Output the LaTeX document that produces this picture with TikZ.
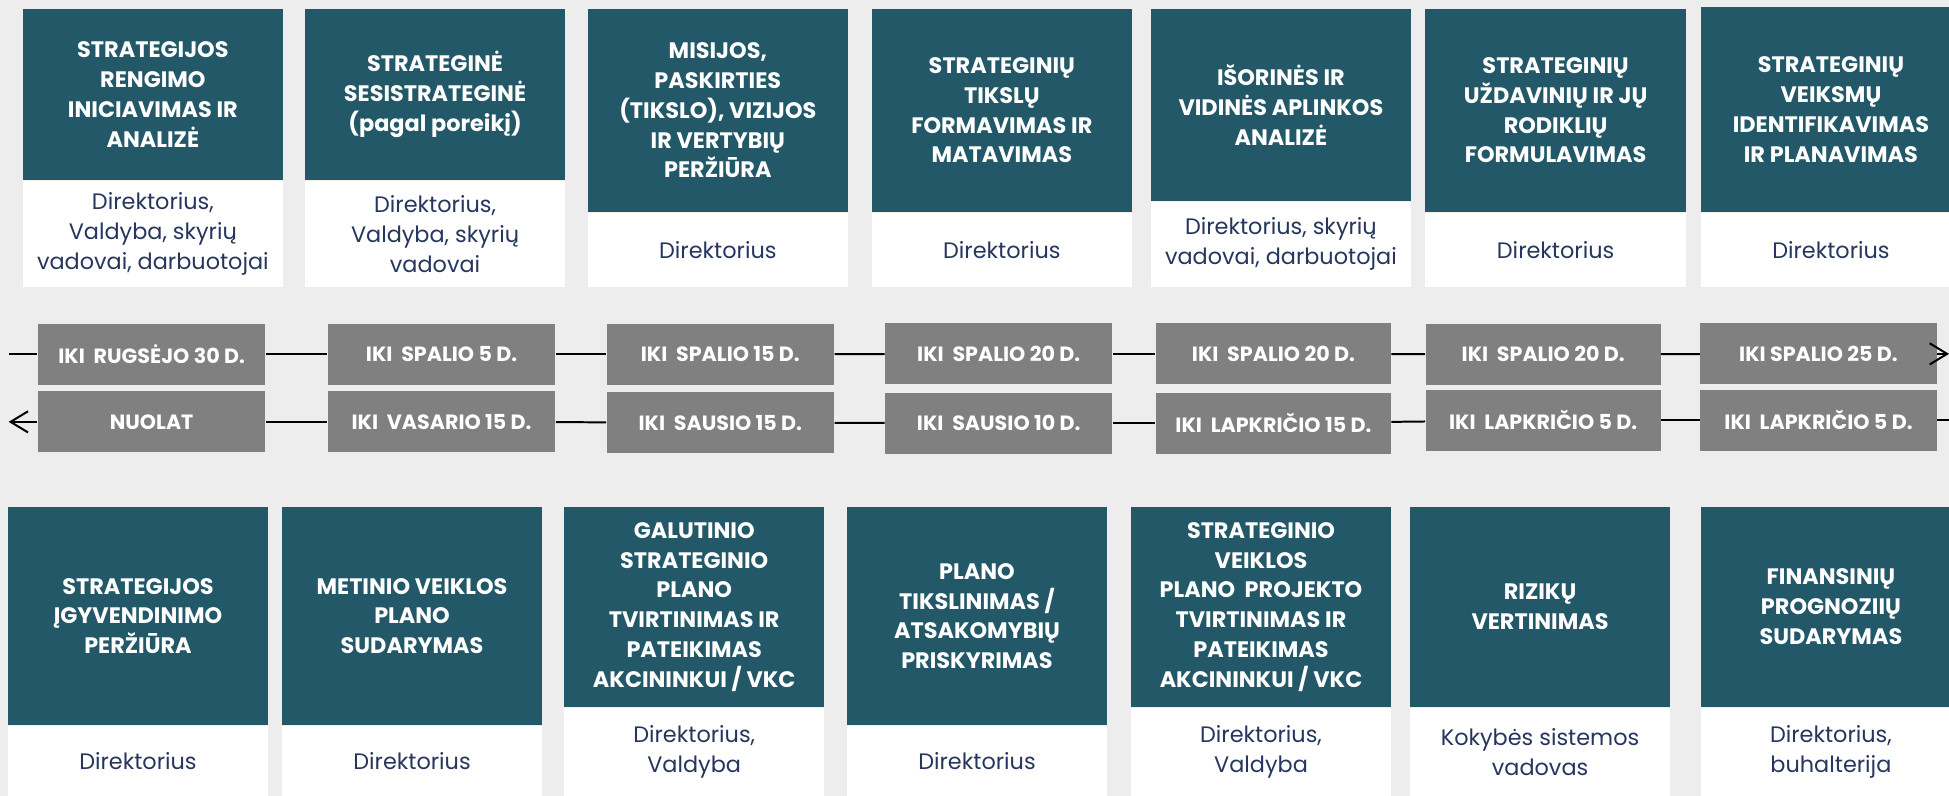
\documentclass[tikz,border=0pt]{standalone}
\usepackage{fontspec}
\setmainfont{Poppins}
\usetikzlibrary{positioning,arrows.meta}
\definecolor{stepteal}{RGB}{34,88,104}
\definecolor{pagegray}{RGB}{237,237,237}
\definecolor{dategray}{RGB}{128,128,128}
\definecolor{whonavy}{RGB}{38,54,94}

\tikzset{
  task/.style={fill=stepteal, text=white, align=center, inner sep=0pt,
    minimum width=104.75pt, font=\bfseries\fontsize{9}{12}\selectfont},
  who/.style={fill=white, text=whonavy, align=center, inner sep=0pt,
    minimum width=104.75pt, font=\fontsize{9}{12}\selectfont},
  deadline/.style={fill=dategray, text=white, inner sep=0pt,
    minimum height=24.5pt, font=\bfseries\fontsize{8.3}{10}\selectfont},
  timeline/.style={line width=0.8pt, black},
  tip/.style={-{Straight Barb[length=7pt,width=8.5pt]}}
}

\begin{document}
\begin{tikzpicture}[x=0.5pt, y=-0.5pt]
  \useasboundingbox (0,0) rectangle (1568,640);
  \fill[pagegray] (0,0) rectangle (1568,640);

  % Top row of steps
  \node[task, minimum height=68.8pt] (t1) at (123,76) {STRATEGIJOS\\RENGIMO\\INICIAVIMAS IR\\ANALIZĖ};
  \node[who, minimum height=42.5pt, below=0pt of t1] (w1) {Direktorius,\\Valdyba, skyrių\\vadovai, darbuotojai};
  \node[task, minimum height=68.8pt] (t2) at (350,76) {STRATEGINĖ\\SESISTRATEGINĖ\\(pagal poreikį)};
  \node[who, minimum height=42.5pt, below=0pt of t2] (w2) {Direktorius,\\Valdyba, skyrių\\vadovai};
  \node[task, minimum height=81.55pt] (t3) at (577.5,88.75) {MISIJOS,\\PASKIRTIES\\(TIKSLO), VIZIJOS\\IR VERTYBIŲ\\PERŽIŪRA};
  \node[who, minimum height=29.75pt, below=0pt of t3] (w3) {Direktorius};
  \node[task, minimum height=81.55pt] (t4) at (806,88.75) {STRATEGINIŲ\\TIKSLŲ\\FORMAVIMAS IR\\MATAVIMAS};
  \node[who, minimum height=29.75pt, below=0pt of t4] (w4) {Direktorius};
  \node[task, minimum height=77.25pt] (t5) at (1030.5,84.45) {IŠORINĖS IR\\VIDINĖS APLINKOS\\ANALIZĖ};
  \node[who, minimum height=34pt, below=0pt of t5] (w5) {Direktorius, skyrių\\vadovai, darbuotojai};
  \node[task, minimum height=81.55pt] (t6) at (1251.5,88.75) {STRATEGINIŲ\\UŽDAVINIŲ IR JŲ\\RODIKLIŲ\\FORMULAVIMAS};
  \node[who, minimum height=29.75pt, below=0pt of t6] (w6) {Direktorius};
  \node[task, minimum height=82.35pt] (t7) at (1473,88) {STRATEGINIŲ\\VEIKSMŲ\\IDENTIFIKAVIMAS\\IR PLANAVIMAS};
  \node[who, minimum height=29.75pt, below=0pt of t7] (w7) {Direktorius};

  % Deadlines, forward
  \node[deadline, minimum width=91.5pt] (a1) at (122,285.1) {IKI\ \ RUGSĖJO 30 D.};
  \node[deadline, minimum width=91.5pt] (a2) at (355.25,285.1) {IKI\ \ SPALIO 5 D.};
  \node[deadline, minimum width=91.5pt] (a3) at (579.5,285.1) {IKI\ \ SPALIO 15 D.};
  \node[deadline, minimum width=91.5pt] (a4) at (803.5,284.7) {IKI\ \ SPALIO 20 D.};
  \node[deadline, minimum width=94.5pt] (a5) at (1024.5,284.7) {IKI\ \ SPALIO 20 D.};
  \node[deadline, minimum width=94.5pt] (a6) at (1241.5,285.1) {IKI\ \ SPALIO 20 D.};
  \node[deadline, minimum width=95pt] (a7) at (1463,284.7) {IKI SPALIO 25 D.};

  % Deadlines, back
  \node[deadline, minimum width=91.5pt] (b1) at (122,339.4) {NUOLAT};
  \node[deadline, minimum width=91.5pt] (b2) at (355.25,339.4) {IKI\ \ VASARIO 15 D.};
  \node[deadline, minimum width=91.5pt] (b3) at (579.5,340) {IKI\ \ SAUSIO 15 D.};
  \node[deadline, minimum width=91.5pt] (b4) at (803.5,340.5) {IKI\ \ SAUSIO 10 D.};
  \node[deadline, minimum width=94.5pt] (b5) at (1024.5,340.5) {IKI\ \ LAPKRIČIO 15 D.};
  \node[deadline, minimum width=94.5pt] (b6) at (1241.5,338) {IKI\ \ LAPKRIČIO 5 D.};
  \node[deadline, minimum width=95pt] (b7) at (1463,338) {IKI\ \ LAPKRIČIO 5 D.};

  \coordinate (aL) at (7,285.1);
  \coordinate (aR) at (1568,284.7);
  \coordinate (bL) at (7,339.4);
  \coordinate (bR) at (1568,338);

  \draw[timeline] (aL) -- (a1);
  \draw[timeline] (a1) -- (a2);
  \draw[timeline] (a2) -- (a3);
  \draw[timeline] (a3) -- (a4);
  \draw[timeline] (a4) -- (a5);
  \draw[timeline] (a5) -- (a6);
  \draw[timeline] (a6) -- (a7);
  \draw[timeline, tip] (a7) -- (aR);

  \draw[timeline, tip] (b1) -- (bL);
  \draw[timeline] (b1) -- (b2);
  \draw[timeline] (b2) -- (b3);
  \draw[timeline] (b3) -- (b4);
  \draw[timeline] (b4) -- (b5);
  \draw[timeline] (b5) -- (b6);
  \draw[timeline] (b6) -- (b7);
  \draw[timeline] (b7) -- (bR);

  % Bottom row of steps
  \node[task, minimum height=87.65pt] (u1) at (111,495.65) {STRATEGIJOS\\ĮGYVENDINIMO\\PERŽIŪRA};
  \node[who, minimum height=28.35pt, below=0pt of u1] (v1) {Direktorius};
  \node[task, minimum height=87.65pt] (u2) at (331.5,495.65) {METINIO VEIKLOS\\PLANO\\SUDARYMAS};
  \node[who, minimum height=28.35pt, below=0pt of u2] (v2) {Direktorius};
  \node[task, minimum height=80.25pt] (u3) at (558.5,488.25) {GALUTINIO\\STRATEGINIO\\PLANO\\TVIRTINIMAS IR\\PATEIKIMAS\\AKCININKUI / VKC};
  \node[who, minimum height=35.75pt, below=0pt of u3] (v3) {Direktorius,\\Valdyba};
  \node[task, minimum height=87.65pt] (u4) at (786,495.65) {PLANO\\TIKSLINIMAS /\\ATSAKOMYBIŲ\\PRISKYRIMAS};
  \node[who, minimum height=28.35pt, below=0pt of u4] (v4) {Direktorius};
  \node[task, minimum height=80.25pt] (u5) at (1014.5,488.25) {STRATEGINIO\\VEIKLOS\\PLANO\ \ PROJEKTO\\TVIRTINIMAS IR\\PATEIKIMAS\\AKCININKUI / VKC};
  \node[who, minimum height=35.75pt, below=0pt of u5] (v5) {Direktorius,\\Valdyba};
  \node[task, minimum height=80.25pt] (u6) at (1239,488.25) {RIZIKŲ\\VERTINIMAS};
  \node[who, minimum height=35.75pt, below=0pt of u6] (v6) {Kokybės sistemos\\vadovas};
  \node[task, minimum height=80.25pt] (u7) at (1473,488.25) {FINANSINIŲ\\PROGNOZIIŲ\\SUDARYMAS};
  \node[who, minimum height=35.75pt, below=0pt of u7] (v7) {Direktorius,\\buhalterija};
\end{tikzpicture}
\end{document}
